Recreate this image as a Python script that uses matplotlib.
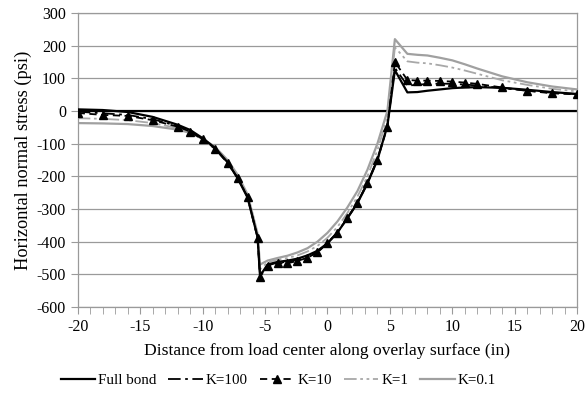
import numpy as np
import matplotlib
matplotlib.use('Agg')
import matplotlib.pyplot as plt
from matplotlib.ticker import MultipleLocator

plt.rcParams['font.family'] = ['Liberation Serif', 'DejaVu Serif']
plt.rcParams['axes.unicode_minus'] = False

# distance from load center (in)
x = [-20, -18, -16, -14, -12, -11, -10, -9, -8, -7.2, -6.4, -5.6, -5.4, -4.8, -4, -3.2, -2.4, -1.6, -0.8,
     0, 0.8, 1.6, 2.4, 3.2, 4, 4.8, 5.4, 6.4, 7.2, 8, 9, 10, 11, 12, 14, 16, 18, 20]

# horizontal normal stress (psi)
full_bond = [5, 3, -3, -18, -42, -58, -83, -113, -157, -205, -265, -385, -505, -470, -462, -458, -452, -442, -428,
             -405, -372, -328, -282, -222, -150, -45, 125, 57, 58, 62, 66, 70, 72, 73, 71, 65, 58, 52]
k100 = [-2, -7, -12, -25, -46, -61, -86, -115, -158, -205, -263, -387, -502, -473, -464, -462, -456, -446, -431,
        -404, -371, -327, -280, -220, -147, -45, 132, 78, 80, 83, 84, 83, 81, 78, 70, 62, 56, 52]
k10 = [-6, -12, -15, -28, -48, -63, -87, -116, -159, -205, -262, -389, -507, -476, -466, -466, -459, -449, -433,
       -405, -372, -328, -282, -221, -150, -48, 150, 95, 93, 93, 92, 90, 87, 83, 72, 62, 54, 51]
k1 = [-22, -24, -28, -37, -52, -64, -84, -111, -152, -198, -258, -380, -485, -463, -455, -450, -442, -430, -413,
      -388, -355, -312, -262, -200, -120, -20, 195, 152, 148, 146, 140, 133, 124, 114, 94, 80, 68, 60]
k01 = [-37, -38, -40, -46, -57, -67, -85, -110, -150, -195, -255, -375, -470, -458, -450, -443, -433, -420, -400,
       -373, -338, -295, -245, -180, -100, 0, 220, 175, 172, 170, 163, 155, 143, 130, 106, 88, 75, 66]

fig = plt.figure(figsize=(5.86, 3.94), dpi=100)
ax = fig.add_axes([0.1326, 0.2208, 0.8524, 0.7462])

grid_c = '#9a9a9a'
ax.axhline(0, color='black', lw=1.6, zorder=1)

ax.plot(x, full_bond, color='black', lw=1.6, label='Full bond', zorder=5)
ax.plot(x, k100, color='black', lw=1.3, dashes=(7, 2.5, 1.5, 2.5), label='K=100', zorder=4)
ax.plot(x, k10, color='black', lw=1.3, dashes=(4, 2.5), marker='^', ms=6, label='K=10', zorder=6)
ax.plot(x, k1, color='#a8a8a8', lw=1.3, dashes=(7, 2, 1.5, 2, 1.5, 2), label='K=1', zorder=3)
ax.plot(x, k01, color='#a0a0a0', lw=1.6, label='K=0.1', zorder=2)

ax.set_xlim(-20, 20)
ax.set_ylim(-600, 300)
ax.xaxis.set_major_locator(MultipleLocator(5))
ax.xaxis.set_minor_locator(MultipleLocator(1))
ax.yaxis.set_major_locator(MultipleLocator(100))
ax.grid(axis='y', color=grid_c, lw=0.9)
ax.set_axisbelow(True)
for s in ax.spines.values():
    s.set_color(grid_c)
    s.set_linewidth(0.9)
ax.tick_params(axis='both', which='both', direction='out', color=grid_c, length=5, labelsize=11.5)

ax.set_xlabel('Distance from load center along overlay surface (in)', fontsize=12.6, labelpad=6)
ax.set_ylabel('Horizontal normal stress (psi)', fontsize=13.2, labelpad=3)

ax.legend(loc='center', bbox_to_anchor=(0.475, 0.035), bbox_transform=fig.transFigure, ncol=5,
          frameon=False, fontsize=10.8, handlelength=2.3, handletextpad=0.2, columnspacing=0.8)

fig.savefig('out.png', dpi=100)
